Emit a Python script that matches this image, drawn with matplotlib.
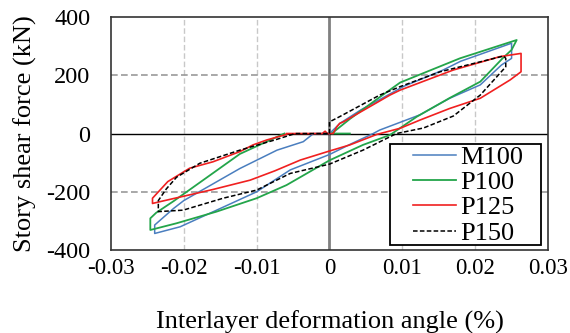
import numpy as np
import matplotlib
matplotlib.use("Agg")
import matplotlib.pyplot as plt
from matplotlib.patches import Rectangle

# hysteresis loops (drift angle %, shear kN)
m100_x = [0.0, 0.0015, 0.0043, 0.0102, 0.0156, 0.018, 0.025, 0.025, 0.0236, 0.0207, 0.0165,
          0.0124, 0.0069, 0.006, 0.003, 0.0, -0.0054, -0.01, -0.0155, -0.0205, -0.024,
          -0.024, -0.0214, -0.02, -0.0123, -0.0072, -0.0036, -0.0022, 0.0]
m100_y = [0, 36, 81, 162, 218, 248, 310, 258, 235, 167, 121,
          64, 12, 0, -35, -72, -125, -200, -263, -320, -343,
          -314, -257, -230, -120, -57, -28, 0, 0]

p100_x = [0.0028, 0.0003, 0.0028, 0.0069, 0.0097, 0.0179, 0.0257, 0.025, 0.0238, 0.0207,
          0.0165, 0.012, 0.0083, 0.0046, 0.0, -0.0059, -0.01, -0.0155, -0.021, -0.0246,
          -0.0246, -0.0238, -0.0214, -0.0169, -0.0123, -0.0062]
p100_y = [0, 0, 50, 125, 175, 258, 321, 287, 259, 178,
          122, 58, -5, -39, -92, -177, -222, -268, -308, -331,
          -291, -272, -232, -152, -70, 0]

p125_x = [-0.0059, -0.001, -0.0006, -0.0003, 0.0005, 0.001, 0.0014, 0.0019, 0.0083, 0.0097,
          0.017, 0.0234, 0.0263, 0.0263, 0.0248, 0.0207, 0.0165, 0.0124, 0.0097, 0.0065,
          0.0028, 0.0, -0.004, -0.0075, -0.0109, -0.016, -0.0233, -0.0243, -0.0243, -0.0222,
          -0.0192, -0.016, -0.0123, -0.0105, -0.0086, -0.0059]
p125_y = [0, 0, 8, 0, 0, 23, 35, 40, 132, 149,
          218, 264, 275, 212, 184, 121, 86, 46, 18, -3,
          -39, -60, -91, -128, -160, -192, -234, -240, -222, -165,
          -119, -97, -62, -39, -22, -3]

p150_x = [0.0, 0.0, 0.0014, 0.0069, 0.0097, 0.0152, 0.0239, 0.0242, 0.0242, 0.0207, 0.017,
          0.0129, 0.0092, 0.0046, 0.0, -0.0054, -0.01, -0.0146, -0.0201, -0.0235, -0.0235,
          -0.0224, -0.021, -0.0178, -0.0123, -0.0075, -0.0047, 0.0]
p150_y = [0, 40, 58, 132, 161, 212, 266, 258, 229, 132, 60,
          19, 0, -57, -105, -137, -194, -222, -263, -268, -230,
          -190, -150, -102, -57, -22, 0, 0]

x_ticks = [-0.03, -0.02, -0.01, 0, 0.01, 0.02, 0.03]
x_labels = ["-0.03", "-0.02", "-0.01", "0", "0.01", "0.02", "0.03"]
y_ticks = [-400, -200, 0, 200, 400]

plt.rcParams['font.family'] = ['Liberation Serif', 'DejaVu Serif']
plt.rcParams['axes.unicode_minus'] = False

fig = plt.figure(figsize=(5.7, 3.33), dpi=100)
ax = fig.add_axes([0.1947, 0.249, 0.7667, 0.700])

# grid
for gx in [-0.02, -0.01, 0.01, 0.02]:
    ax.axvline(gx, color='#c8c8c8', lw=1, ls=(0, (4, 2)), zorder=0)
for gy in [-200, 200]:
    ax.axhline(gy, color='#999999', lw=1.2, ls=(0, (4, 2)), zorder=0)
ax.axvline(0, color='#808080', lw=2, zorder=1)
ax.axhline(0, color='black', lw=1, zorder=1)

ax.plot(m100_x, m100_y, color='#4a7ebf', lw=1.1, label='M100', zorder=3)
ax.plot(p100_x, p100_y, color='#23a54a', lw=1.3, label='P100', zorder=3)
ax.plot(p125_x, p125_y, color='#f02020', lw=1.2, label='P125', zorder=3)
ax.plot(p150_x, p150_y, color='black', lw=1.1, ls=(0, (3, 1.5)), label='P150', zorder=4)

ax.set_xlim(-0.03, 0.03)
ax.set_ylim(-400, 400)
ax.set_xticks(x_ticks)
ax.set_xticklabels(x_labels)
ax.set_yticks(y_ticks)
ax.tick_params(length=0)
ax.tick_params(axis='y', pad=15, labelsize=17.5)
ax.tick_params(axis='x', pad=6, labelsize=16.5)
for s in ax.spines.values():
    s.set_linewidth(1.2)
    s.set_color('#333333')

ax.set_xlabel('Interlayer deformation angle (%)', fontsize=19, va='center')
ax.xaxis.set_label_coords(0.5, -0.31)
ax.set_ylabel('Story shear force (kN)', fontsize=19, va='center')
ax.yaxis.set_label_coords(-0.195, 0.5)

# legend box drawn separately so the padding matches
ax.add_patch(Rectangle((0.638, 0.0215), 0.346, 0.4335, transform=ax.transAxes,
                       facecolor='white', edgecolor='black', lw=1.3, zorder=5))
leg = ax.legend(loc='center left', bbox_to_anchor=(0.691, 0.236), fontsize=19,
                frameon=False, handlelength=1.63, handletextpad=0.15,
                labelspacing=0.07, borderpad=0, borderaxespad=0)
leg.set_zorder(6)

fig.savefig('out.png', dpi=100)
